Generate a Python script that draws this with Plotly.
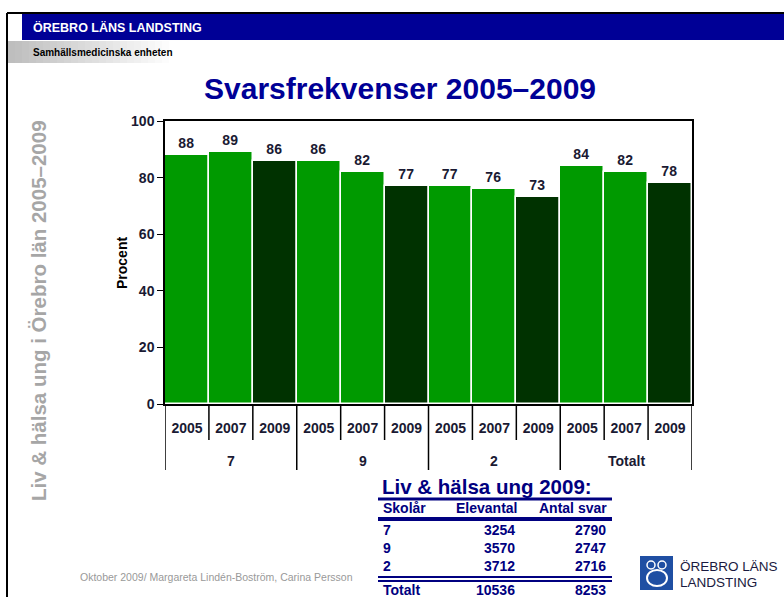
import plotly.graph_objects as go

# --- data -------------------------------------------------------------
grades = ["7", "7", "7", "9", "9", "9", "2", "2", "2", "Totalt", "Totalt", "Totalt"]
years = ["2005", "2007", "2009", "2005", "2007", "2009",
         "2005", "2007", "2009", "2005", "2007", "2009"]
response_rates = [88, 89, 86, 86, 82, 77, 77, 76, 73, 84, 82, 78]

table_grades = ["7", "9", "2"]
table_students = [3254, 3570, 3712]
table_answers = [2790, 2747, 2716]
total_students = 10536
total_answers = 8253

# --- look -------------------------------------------------------------
W, H = 784, 597
L, R, T, B = 165, 692, 121, 404   # plot area in pixels
NAVY = "#000096"
TXT = "#1a1a33"
LIGHT_GREEN = "#009a00"
DARK_GREEN = "#003200"
FONT = "Liberation Sans, Arial, sans-serif"


def px(x):
    return (x - L) / (R - L)


def py(y):
    return (B - y) / (B - T)


def text(fig, s, x, y, size, color, anchor="left", bold=True, angle=0):
    fig.add_annotation(
        text=s, x=px(x), y=py(y), xref="paper", yref="paper",
        xanchor=anchor, yanchor="middle", showarrow=False, textangle=angle,
        font=dict(size=size, color=color, family=FONT,
                  weight="bold" if bold else "normal"),
    )


def rect(fig, x0, y0, x1, y1, color):
    fig.add_shape(
        type="rect", xref="paper", yref="paper",
        x0=px(x0), x1=px(x1), y0=py(y0), y1=py(y1),
        fillcolor=color, line=dict(width=0), layer="below",
    )


def hline(fig, x0, x1, y, width, color):
    fig.add_shape(
        type="line", xref="paper", yref="paper",
        x0=px(x0), x1=px(x1), y0=py(y), y1=py(y),
        line=dict(width=width, color=color),
    )


def build():
    xs = list(range(len(years)))
    bar_colors = [DARK_GREEN if yr == "2009" else LIGHT_GREEN for yr in years]
    fig = go.Figure(go.Bar(
        x=xs, y=response_rates,
        marker=dict(color=bar_colors, line=dict(color="white", width=1.5)),
        text=response_rates, textposition="outside", cliponaxis=False,
        textfont=dict(size=14, color=TXT, family=FONT, weight="bold"),
        hoverinfo="skip",
    ))
    fig.update_layout(
        width=W, height=H,
        margin=dict(l=L, r=W - R, t=T, b=H - B),
        paper_bgcolor="white", plot_bgcolor="white",
        bargap=0, showlegend=False,
        font=dict(family=FONT, color=TXT),
    )
    fig.update_yaxes(
        range=[0, 100], dtick=20, showgrid=False, zeroline=False,
        showline=True, linecolor="black", linewidth=1.5, mirror=True,
        ticks="outside", ticklen=6, tickcolor="black",
        tickfont=dict(size=14, color=TXT, family=FONT, weight="bold"),
    )
    fig.update_xaxes(
        range=[-0.5, len(years) - 0.5], showgrid=False, zeroline=False,
        showline=True, linecolor="black", linewidth=1.5, mirror=True,
        tickvals=xs, ticktext=years, ticks="", ticklabelstandoff=10,
        tickfont=dict(size=14, color=TXT, family=FONT, weight="bold"),
    )

    # category separators under the axis: short between years, long between grades
    for i in range(len(years) + 1):
        edge = i == 0 or i == len(years) or grades[i] != grades[i - 1]
        fig.add_shape(
            type="line", xref="x", yref="paper",
            x0=i - 0.5, x1=i - 0.5, y0=0, y1=py(470 if edge else 440),
            line=dict(width=1.5, color="black"),
        )
    for g in dict.fromkeys(grades):
        idx = [i for i, v in enumerate(grades) if v == g]
        fig.add_annotation(
            text=g, x=sum(idx) / len(idx), y=py(461), xref="x", yref="paper",
            showarrow=False, yanchor="middle",
            font=dict(size=14, color=TXT, family=FONT, weight="bold"),
        )
    text(fig, "Procent", 122, 263, 14, "black", anchor="center", angle=-90)

    # frame and header bars
    hline(fig, 7, W, 13, 2, "black")
    fig.add_shape(type="line", xref="paper", yref="paper",
                  x0=px(7), x1=px(7), y0=py(13), y1=py(H), line=dict(width=2, color="black"))
    rect(fig, 22, 14, W, 40, NAVY)
    steps = 24
    for i in range(steps):
        g = int(190 + (255 - 190) * i / (steps - 1))
        rect(fig, 8 + i * 7, 41, 8 + (i + 1) * 7 + 1, 63, f"rgb({g},{g},{g})")
    text(fig, "ÖREBRO LÄNS LANDSTING", 31, 27, 12.5, "white")
    text(fig, "Samhällsmedicinska enheten", 31, 52, 10, "black")

    # title and side text
    text(fig, "Svarsfrekvenser 2005–2009", 400, 88, 30, NAVY, anchor="center")
    text(fig, "Liv & hälsa ung i Örebro län 2005–2009", 38, 311, 20.5, "#a6a6a6",
         anchor="center", angle=-90)

    # table
    tc = "#000080"
    text(fig, "Liv & hälsa ung 2009:", 380, 487, 20.5, tc)
    hline(fig, 378, 612, 499, 3, tc)
    text(fig, "Skolår", 381, 508, 14, tc)
    text(fig, "Elevantal", 519, 508, 14, tc, anchor="right")
    text(fig, "Antal svar", 609, 508, 14, tc, anchor="right")
    hline(fig, 378, 612, 519, 4, tc)
    for i, (g, s, a) in enumerate(zip(table_grades, table_students, table_answers)):
        yy = 530 + i * 18
        text(fig, g, 381, yy, 14, tc)
        text(fig, str(s), 517, yy, 14, tc, anchor="right")
        text(fig, str(a), 608, yy, 14, tc, anchor="right")
    hline(fig, 378, 612, 577, 2, tc)
    hline(fig, 378, 612, 581, 2, tc)
    text(fig, "Totalt", 381, 590, 14, tc)
    text(fig, str(total_students), 517, 590, 14, tc, anchor="right")
    text(fig, str(total_answers), 608, 590, 14, tc, anchor="right")

    # footer
    text(fig, "Oktober 2009/ Margareta Lindén-Boström, Carina Persson", 78, 577, 10.5,
         "#999999", bold=False)

    # logo
    rect(fig, 640, 556, 673, 590, "#1f4fa3")
    for cx in (651, 662):
        fig.add_shape(type="circle", xref="paper", yref="paper",
                      x0=px(cx - 4), x1=px(cx + 4), y0=py(561), y1=py(569),
                      line=dict(color="white", width=1.5))
    fig.add_shape(type="circle", xref="paper", yref="paper",
                  x0=px(647), x1=px(667), y0=py(570), y1=py(586),
                  line=dict(color="white", width=2))
    text(fig, "ÖREBRO LÄNS", 678, 566, 13.5, "#1a1a40", bold=False)
    text(fig, "LANDSTING", 678, 582, 13.5, "#1a1a40", bold=False)
    return fig


fig = build()
fig.write_html("out.html", config={"displayModeBar": False},
               post_script="document.body.style.margin = '0';")
